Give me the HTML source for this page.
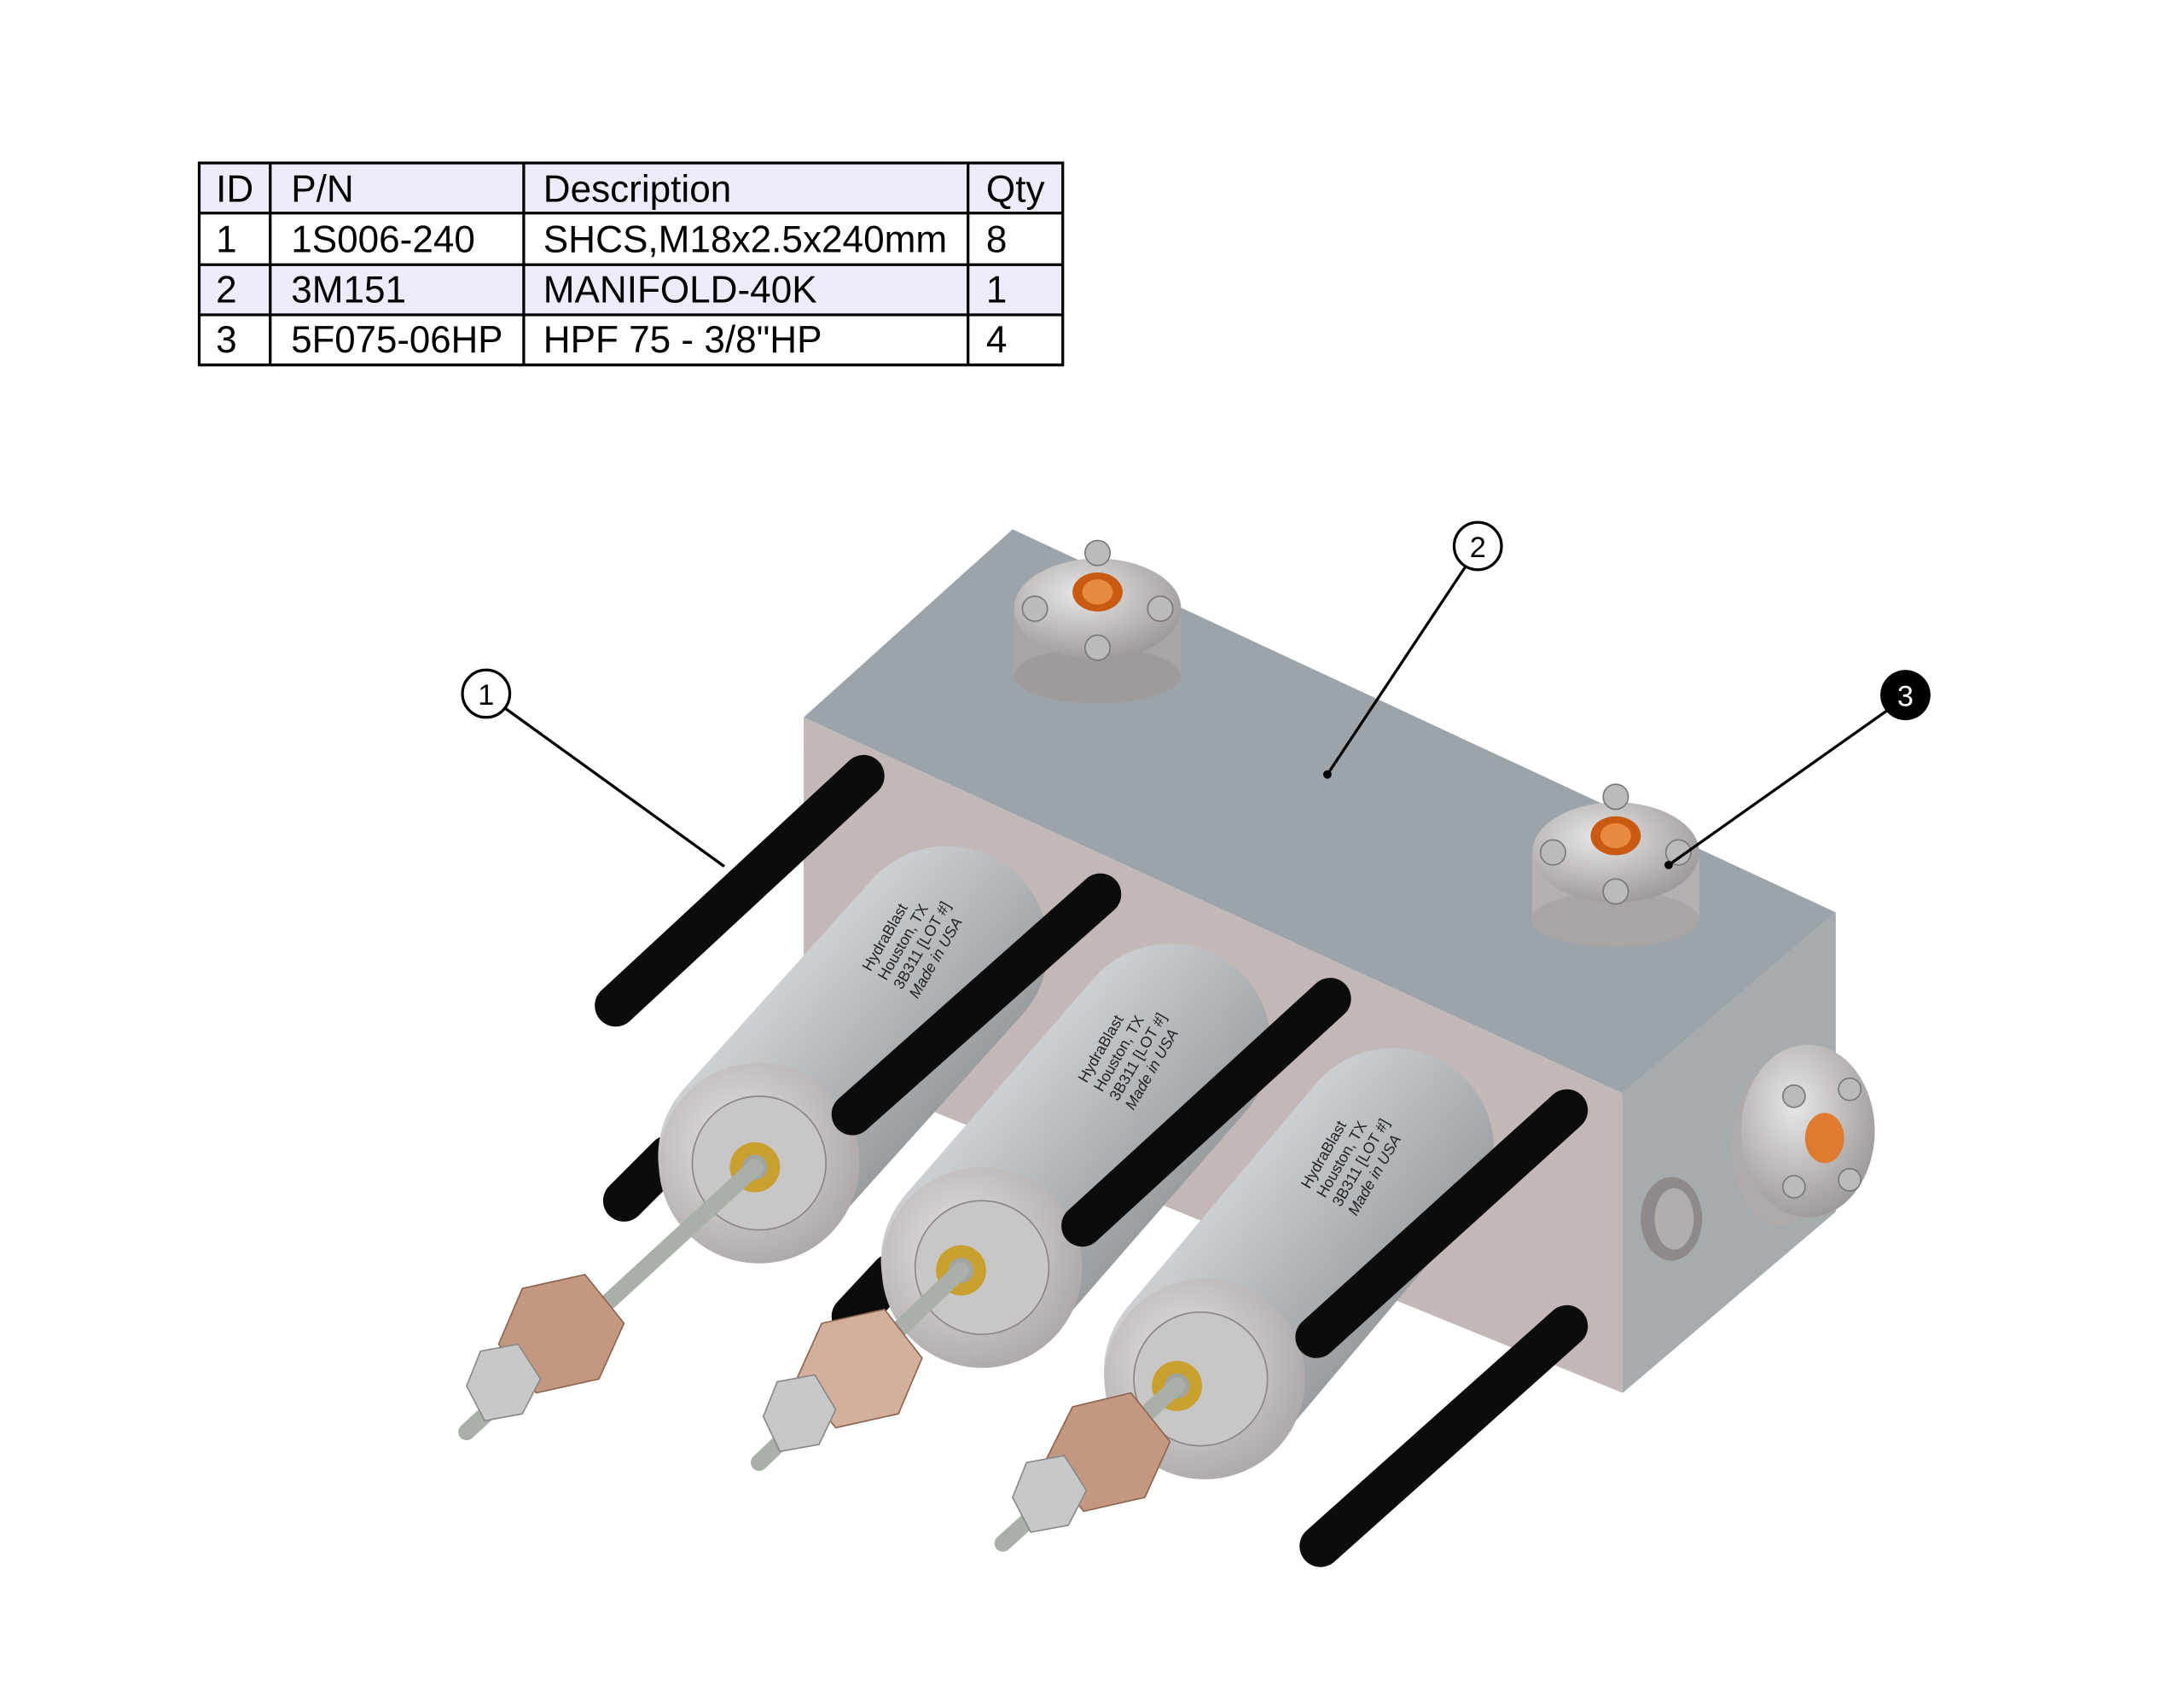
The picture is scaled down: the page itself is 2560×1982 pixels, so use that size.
<!DOCTYPE html>
<html><head><meta charset="utf-8"><style>html,body{margin:0;padding:0;background:#fff}svg{display:block}</style></head><body>
<svg width="2560" height="1982" viewBox="0 0 1568 1214" xmlns="http://www.w3.org/2000/svg" font-family="Liberation Sans, Arial, sans-serif">
<defs>
<linearGradient id="cyl" x1="0" y1="0" x2="1" y2="1"><stop offset="0" stop-color="#d8dadc"/><stop offset="0.45" stop-color="#b7babd"/><stop offset="1" stop-color="#8f9396"/></linearGradient>
<radialGradient id="face" cx="0.4" cy="0.4" r="0.7"><stop offset="0" stop-color="#e6e3e3"/><stop offset="1" stop-color="#a9a3a3"/></radialGradient>
<radialGradient id="boss" cx="0.4" cy="0.35" r="0.7"><stop offset="0" stop-color="#e8e6e6"/><stop offset="1" stop-color="#9c9797"/></radialGradient>
</defs>
<!-- Table -->
<rect x="143" y="117" width="620" height="36" fill="#ececfa"/>
<rect x="143" y="190" width="620" height="36" fill="#ececfa"/>
<g stroke="#000" stroke-width="2" fill="none">
<rect x="143" y="117" width="620" height="145"/>
<line x1="143" y1="153" x2="763" y2="153"/><line x1="143" y1="190" x2="763" y2="190"/><line x1="143" y1="226" x2="763" y2="226"/>
<line x1="194" y1="117" x2="194" y2="262"/><line x1="376" y1="117" x2="376" y2="262"/><line x1="695" y1="117" x2="695" y2="262"/>
</g>
<g font-size="27" fill="#000">
<text x="155" y="145">ID</text><text x="209" y="145">P/N</text><text x="390" y="145">Description</text><text x="708" y="145">Qty</text>
<text x="155" y="181">1</text><text x="209" y="181">1S006-240</text><text x="390" y="181" textLength="290" lengthAdjust="spacingAndGlyphs">SHCS,M18x2.5x240mm</text><text x="708" y="181">8</text>
<text x="155" y="217">2</text><text x="209" y="217">3M151</text><text x="390" y="217">MANIFOLD-40K</text><text x="708" y="217">1</text>
<text x="155" y="253">3</text><text x="209" y="253" textLength="152" lengthAdjust="spacingAndGlyphs">5F075-06HP</text><text x="390" y="253">HPF 75 - 3/8"HP</text><text x="708" y="253">4</text>
</g>
<!-- Manifold -->
<polygon points="727,380 577,515 1165,785 1318,655" fill="#9ca4a9"/>
<polygon points="577,515 1165,785 1165,1000 577,760" fill="#c2b8b8"/>
<polygon points="1165,785 1318,655 1318,870 1165,1000" fill="#a6abae"/>
<ellipse cx="1200" cy="875" rx="22" ry="30" fill="#8e8a8a"/><ellipse cx="1202" cy="875" rx="14" ry="22" fill="#b3adad"/>
<!-- top fittings -->
<g transform="translate(788,447)"><rect x="-60" y="-10" width="120" height="50" fill="#aaa5a5"/><ellipse cx="0" cy="38" rx="60" ry="20" fill="#a09b9b"/><ellipse cx="0" cy="-10" rx="60" ry="36" fill="url(#boss)"/><ellipse cx="0" cy="-22" rx="18" ry="14" fill="#c85a14"/><ellipse cx="0" cy="-22" rx="11" ry="9" fill="#e88a40"/>
<circle cx="-45" cy="-10" r="9" fill="#bbb" stroke="#777"/><circle cx="45" cy="-10" r="9" fill="#bbb" stroke="#777"/><circle cx="0" cy="-50" r="9" fill="#bbb" stroke="#777"/><circle cx="0" cy="18" r="9" fill="#bbb" stroke="#777"/></g>
<g transform="translate(1160,622)"><rect x="-60" y="-10" width="120" height="50" fill="#b5b0b0"/><ellipse cx="0" cy="38" rx="60" ry="20" fill="#aaa5a5"/><ellipse cx="0" cy="-10" rx="60" ry="36" fill="url(#boss)"/><ellipse cx="0" cy="-22" rx="18" ry="14" fill="#c85a14"/><ellipse cx="0" cy="-22" rx="11" ry="9" fill="#e88a40"/>
<circle cx="-45" cy="-10" r="9" fill="#bbb" stroke="#777"/><circle cx="45" cy="-10" r="9" fill="#bbb" stroke="#777"/><circle cx="0" cy="-50" r="9" fill="#bbb" stroke="#777"/><circle cx="0" cy="18" r="9" fill="#bbb" stroke="#777"/></g>
<g transform="translate(1298,812)"><ellipse cx="-20" cy="10" rx="35" ry="58" fill="#b0abab"/><ellipse cx="0" cy="0" rx="48" ry="62" fill="url(#boss)"/><ellipse cx="12" cy="5" rx="14" ry="18" fill="#e07a30"/>
<circle cx="-10" cy="-25" r="8" fill="#bbb" stroke="#777"/><circle cx="30" cy="-30" r="8" fill="#bbb" stroke="#777"/><circle cx="30" cy="35" r="8" fill="#bbb" stroke="#777"/><circle cx="-10" cy="40" r="8" fill="#bbb" stroke="#777"/></g>
<!-- bolts back -->
<g stroke="#0c0c0c" stroke-width="30" stroke-linecap="round">
<line x1="620" y1="557" x2="442" y2="722"/>
<line x1="480" y1="830" x2="448" y2="862"/>
<line x1="640" y1="915" x2="612" y2="945"/>
</g>
<!-- cylinders -->
<g>
<line x1="680" y1="680" x2="545" y2="830" stroke="url(#cyl)" stroke-width="145" stroke-linecap="round"/>
<circle cx="545" cy="835" r="72" fill="url(#face)"/><circle cx="545" cy="835" r="48" fill="#c9c6c6" stroke="#8a8686"/><circle cx="542" cy="838" r="18" fill="#c8a030"/><circle cx="542" cy="838" r="9" fill="#a0a4a0"/>
</g>
<line x1="790" y1="642" x2="612" y2="800" stroke="#0c0c0c" stroke-width="30" stroke-linecap="round"/>
<g>
<line x1="840" y1="750" x2="705" y2="905" stroke="url(#cyl)" stroke-width="145" stroke-linecap="round"/>
<circle cx="705" cy="910" r="72" fill="url(#face)"/><circle cx="705" cy="910" r="48" fill="#c9c6c6" stroke="#8a8686"/><circle cx="690" cy="912" r="18" fill="#c8a030"/><circle cx="690" cy="912" r="9" fill="#a0a4a0"/>
</g>
<line x1="955" y1="717" x2="777" y2="880" stroke="#0c0c0c" stroke-width="30" stroke-linecap="round"/>
<g>
<line x1="1000" y1="825" x2="865" y2="985" stroke="url(#cyl)" stroke-width="145" stroke-linecap="round"/>
<circle cx="865" cy="990" r="72" fill="url(#face)"/><circle cx="862" cy="990" r="48" fill="#c9c6c6" stroke="#8a8686"/><circle cx="845" cy="995" r="18" fill="#c8a030"/><circle cx="845" cy="995" r="9" fill="#a0a4a0"/>
</g>
<g stroke="#0c0c0c" stroke-width="30" stroke-linecap="round">
<line x1="1125" y1="797" x2="945" y2="960"/>
<line x1="1125" y1="952" x2="948" y2="1110"/>
</g>
<!-- cylinder labels -->
<g font-size="11" fill="#222" transform="translate(640,672) rotate(-60)"><text x="-30" y="0">HydraBlast</text><text x="-30" y="13">Houston, TX</text><text x="-30" y="26">3B311  [LOT #]</text><text x="-30" y="39" font-style="italic">Made in USA</text></g>
<g font-size="11" fill="#222" transform="translate(795,752) rotate(-60)"><text x="-30" y="0">HydraBlast</text><text x="-30" y="13">Houston, TX</text><text x="-30" y="26">3B311  [LOT #]</text><text x="-30" y="39" font-style="italic">Made in USA</text></g>
<g font-size="11" fill="#222" transform="translate(955,828) rotate(-60)"><text x="-30" y="0">HydraBlast</text><text x="-30" y="13">Houston, TX</text><text x="-30" y="26">3B311  [LOT #]</text><text x="-30" y="39" font-style="italic">Made in USA</text></g>
<!-- stems and nuts -->
<g>
<line x1="542" y1="838" x2="335" y2="1028" stroke="#a8b0a8" stroke-width="12" stroke-linecap="round"/>
<polygon points="375,925 420,915 448,950 430,990 385,1000 358,965" fill="#c49880" stroke="#8a6450"/>
<polygon points="345,970 372,965 388,990 375,1015 348,1020 335,995" fill="#c8c8c8" stroke="#888"/>
<line x1="690" y1="912" x2="545" y2="1050" stroke="#a8b0a8" stroke-width="12" stroke-linecap="round"/>
<polygon points="590,950 635,940 662,975 645,1015 600,1025 572,990" fill="#d4b09c" stroke="#8a6450"/>
<polygon points="558,992 585,987 600,1012 588,1037 560,1042 548,1017" fill="#c8c8c8" stroke="#888"/>
<line x1="845" y1="995" x2="720" y2="1108" stroke="#a8b0a8" stroke-width="12" stroke-linecap="round"/>
<polygon points="770,1010 812,1000 840,1035 822,1075 778,1085 750,1050" fill="#c49880" stroke="#8a6450"/>
<polygon points="737,1050 764,1045 780,1070 767,1095 740,1100 727,1075" fill="#c8c8c8" stroke="#888"/>
</g>
<!-- callouts -->
<g stroke="#000" stroke-width="2">
<line x1="362" y1="508" x2="520" y2="622"/>
<line x1="1052" y1="407" x2="953" y2="556"/>
<line x1="1355" y1="510" x2="1198" y2="621"/>
</g>
<circle cx="953" cy="556" r="3"/><circle cx="1198" cy="621" r="3"/>
<circle cx="349" cy="498" r="17" fill="#fff" stroke="#000" stroke-width="2"/><text x="349" y="506" font-size="21" text-anchor="middle">1</text>
<circle cx="1061" cy="392" r="17" fill="#fff" stroke="#000" stroke-width="2"/><text x="1061" y="400" font-size="21" text-anchor="middle">2</text>
<circle cx="1368" cy="499" r="18" fill="#000"/><text x="1368" y="507" font-size="21" text-anchor="middle" fill="#fff">3</text>
</svg>
</body></html>
